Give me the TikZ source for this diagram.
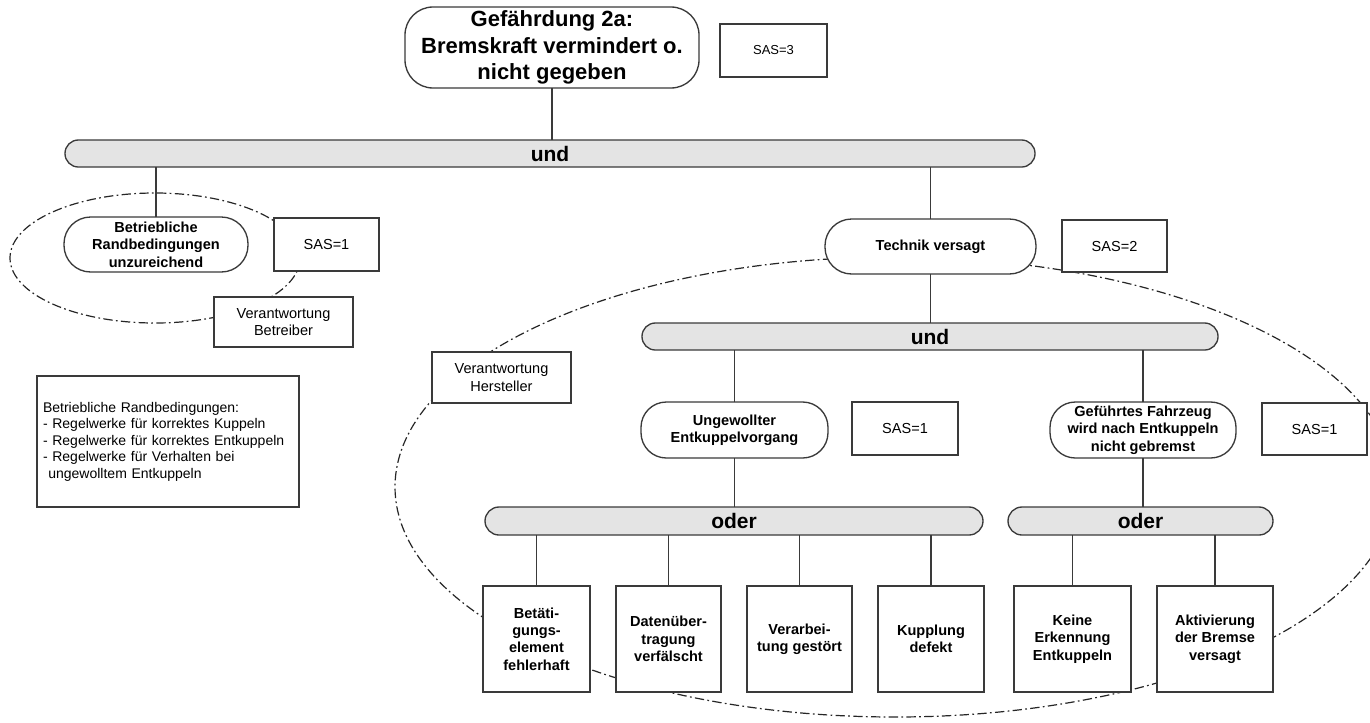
\documentclass[tikz,border=0pt]{standalone}
\usepackage{fontspec}
\setmainfont{Liberation Sans}
\definecolor{linecol}{HTML}{3A3A3A}
\definecolor{barfill}{HTML}{E4E4E4}
\begin{document}
\begin{tikzpicture}[x=0.75pt,y=-0.75pt,
  every node/.style={inner sep=0pt, outer sep=0pt, text=black},
  sz/.style 2 args={minimum width=#1*0.75pt, minimum height=#2*0.75pt},
  frame/.style={draw=linecol, line width=1pt, fill=white},
  hazard/.style={frame, rounded corners=21pt, align=center,
    font=\fontsize{16.5}{19.9}\selectfont\bfseries},
  event/.style={frame, rounded corners=20pt, align=center,
    font=\fontsize{10.9}{13.1}\selectfont\bfseries},
  leaf/.style={frame, align=center, font=\fontsize{10.9}{13.1}\selectfont\bfseries},
  sas/.style={frame, font=\fontsize{10.9}{13}\selectfont},
  note/.style={frame, align=center, font=\fontsize{10.9}{13.1}\selectfont},
  gatebar/.style={draw=linecol, line width=1pt, fill=barfill, rounded corners=10pt,
    font=\fontsize{15.75}{18}\selectfont\bfseries},
  wire/.style={draw=linecol, line width=1pt},
  resp/.style={draw=black!85, line width=0.9pt,
    dash pattern=on 7pt off 2.5pt on 1.3pt off 2.5pt}
]
\useasboundingbox (0,0) rectangle (1370,722);
\clip (0,0) rectangle (1370,722);

% areas of responsibility
\draw[resp] (155,258) ellipse [x radius=108.75pt, y radius=48.75pt];
\draw[resp] (895,487) ellipse [x radius=375pt, y radius=172.5pt];

% top event
\node[hazard, sz={294}{81}] (haz) at (552,47.5) {Gefährdung 2a:\\Bremskraft vermindert o.\\nicht gegeben};
\node[sas, sz={107}{53}, font=\fontsize{9.75}{12}\selectfont] (sas3) at (773.5,50.5) {SAS=3};

% first AND gate
\node[gatebar, sz={970}{27}] (und1) at (550,153.5) {und};

% operator branch
\node[event, sz={184}{55}] (betr) at (156,244.5) {Betriebliche\\Randbedingungen\\unzureichend};
\node[sas, sz={105}{53}] (sas1a) at (326.5,244.5) {SAS=1};
\node[note, sz={139}{50}] (vbetr) at (283.5,322) {Verantwortung\\Betreiber};
\node[frame, sz={262}{131}, align=left, text width=250*0.75pt,
  font=\fontsize{10.5}{12.4}\selectfont] (info) at (168,441.5)
  {Betriebliche Randbedingungen:\\
   - Regelwerke für korrektes Kuppeln\\
   - Regelwerke für korrektes Entkuppeln\\
   - Regelwerke für Verhalten bei\\
   \hspace*{4pt}ungewolltem Entkuppeln};

% manufacturer branch
\node[event, sz={211}{55}] (tech) at (930.5,246.5) {Technik versagt};
\node[sas, sz={105}{52}] (sas2) at (1114.5,246) {SAS=2};
\node[gatebar, sz={576}{27}] (und2) at (930,336.5) {und};
\node[note, sz={139}{51}] (vher) at (501.5,377.5) {Verantwortung\\Hersteller};

\node[event, sz={187}{56}, rounded corners=19pt] (ungew) at (734.5,430) {Ungewollter\\Entkuppelvorgang};
\node[sas, sz={106}{53}] (sas1b) at (905,428.5) {SAS=1};
\node[event, sz={186}{56}, rounded corners=19pt] (gef) at (1143,430) {Geführtes Fahrzeug\\wird nach Entkuppeln\\nicht gebremst};
\node[sas, sz={105}{52}] (sas1c) at (1314.5,429) {SAS=1};

% OR gates
\node[gatebar, sz={498}{28}, rounded corners=10.5pt] (oder1) at (734,521) {oder};
\node[gatebar, sz={265}{28}, rounded corners=10.5pt] (oder2) at (1140.5,521) {oder};

% basic events
\node[leaf, sz={107}{106}] (b1) at (536.5,639) {Betäti-\\gungs-\\element\\fehlerhaft};
\node[leaf, sz={105}{106}] (b2) at (668.5,639) {Datenüber-\\tragung\\verfälscht};
\node[leaf, sz={105}{106}] (b3) at (799.5,639) {Verarbei-\\tung gestört};
\node[leaf, sz={106}{106}] (b4) at (931,639) {Kupplung\\defekt};
\node[leaf, sz={117}{106}] (b5) at (1072.5,639) {Keine\\Erkennung\\Entkuppeln};
\node[leaf, sz={116}{106}] (b6) at (1215,639) {Aktivierung\\der Bremse\\versagt};

% connectors
\draw[wire] (haz.south) -- (haz.south |- und1.north);
\draw[wire] (betr.north) -- (betr.north |- und1.south);
\draw[wire] (tech.north) -- (tech.north |- und1.south);
\draw[wire] (tech.south) -- (tech.south |- und2.north);
\draw[wire] (ungew.north) -- (ungew.north |- und2.south);
\draw[wire] (gef.north) -- (gef.north |- und2.south);
\draw[wire] (ungew.south) -- (ungew.south |- oder1.north);
\draw[wire] (gef.south) -- (gef.south |- oder2.north);
\foreach \b in {b1,b2,b3,b4}
  \draw[wire] (\b.north) -- (\b.north |- oder1.south);
\foreach \b in {b5,b6}
  \draw[wire] (\b.north) -- (\b.north |- oder2.south);
\end{tikzpicture}
\end{document}
